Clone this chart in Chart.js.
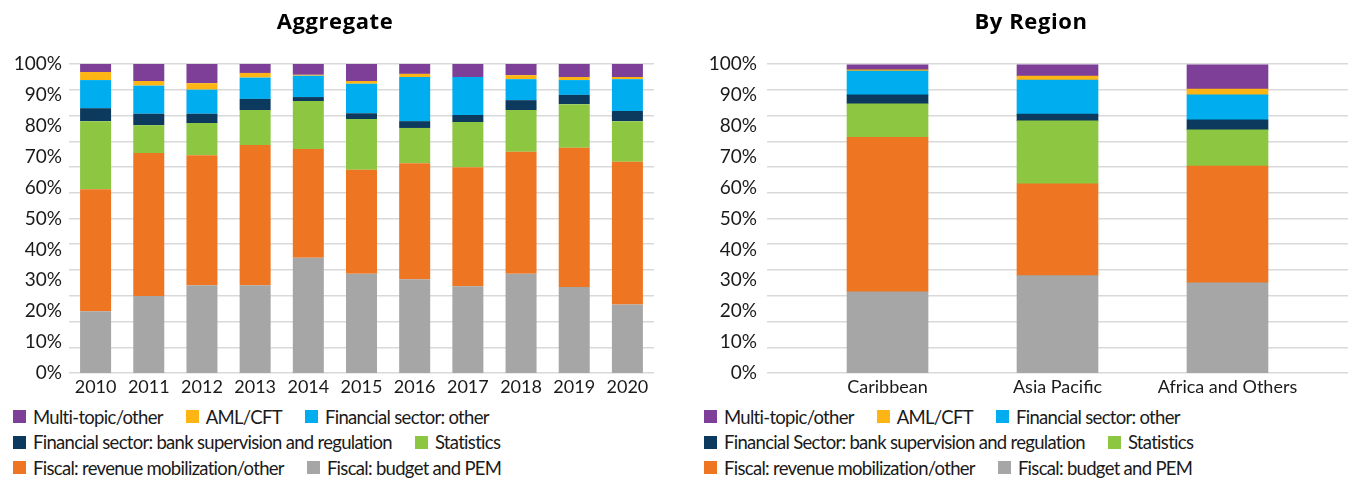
<!DOCTYPE html>
<html><head><meta charset="utf-8">
<script src="https://cdn.jsdelivr.net/npm/chart.js@4"></script>
<style>
html,body{margin:0;padding:0;background:#fff;width:1348px;height:479px;overflow:hidden;font-family:Lato,sans-serif;}
.wrap{position:absolute;top:0;width:674px;height:400px;}
.title{position:absolute;top:9px;width:300px;text-align:center;font-family:'Open Sans',sans-serif;font-weight:bold;font-size:22px;line-height:22px;letter-spacing:0.6px;color:#000;white-space:nowrap;}
.legend{position:absolute;font-family:Lato,sans-serif;font-size:18.5px;letter-spacing:-0.7px;color:#1a1a1a;}
.row{height:25.5px;white-space:nowrap;display:flex;align-items:center;}
.item{display:inline-flex;align-items:center;margin-right:23px;}
.sw{width:13px;height:13px;margin-right:7px;display:inline-block;}
</style></head><body>
<div class="wrap" style="left:0"><canvas id="c1" width="674" height="400"></canvas></div>
<div class="wrap" style="left:674px"><canvas id="c2" width="674" height="400"></canvas></div>
<div class="title" style="left:185px">Aggregate</div>
<div class="title" style="left:881px">By Region</div>
<div class="legend" id="lg1" style="left:13px;top:404px"></div>
<div class="legend" id="lg2" style="left:704px;top:404px"></div>
<script>
const years = ['2010','2011','2012','2013','2014','2015','2016','2017','2018','2019','2020'];
const regions = ['Caribbean','Asia Pacific','Africa and Others'];
const yTicks = [0,10,20,30,40,50,60,70,80,90,100];

const seriesAgg = ['Fiscal: budget and PEM','Fiscal: revenue mobilization/other','Statistics','Financial sector: bank supervision and regulation','Financial sector: other','AML/CFT','Multi-topic/other'];
const seriesReg = ['Fiscal: budget and PEM','Fiscal: revenue mobilization/other','Statistics','Financial Sector: bank supervision and regulation','Financial sector: other','AML/CFT','Multi-topic/other'];
const colors = ['#A6A6A6','#EE7623','#8DC641','#0B3A5E','#00AEEF','#FDB515','#7D3F98'];

const aggBudget   = [20.0,24.9,28.4,28.4,37.3,32.1,30.3,28.1,32.1,27.8,22.2];
const aggRevenue  = [39.5,46.3,42.1,45.4,35.2,33.7,37.6,38.5,39.5,45.1,46.2];
const aggStats    = [22.0,9.0,10.4,11.3,15.5,16.4,11.4,14.6,13.5,14.1,13.1];
const aggBank     = [4.2,3.7,3.0,3.6,1.3,1.9,2.2,2.3,3.2,3.0,3.3];
const aggFinOther = [9.1,9.1,7.8,6.9,6.9,9.5,14.3,12.3,6.8,4.8,10.3];
const aggAml      = [2.6,1.5,2.1,1.5,0.3,0.9,1.0,0.0,1.3,1.0,0.7];
const aggMulti    = [2.6,5.5,6.2,2.9,3.5,5.5,3.2,4.2,3.6,4.2,4.2];

const regBudget   = [26.3,31.5,29.2];
const regRevenue  = [50.0,29.7,37.8];
const regStats    = [10.8,20.4,11.7];
const regBank     = [2.9,2.2,3.2];
const regFinOther = [7.7,11.0,8.1];
const regAml      = [0.4,1.3,1.9];
const regMulti    = [1.6,3.6,7.8];

const aggData = [aggBudget,aggRevenue,aggStats,aggBank,aggFinOther,aggAml,aggMulti];
const regData = [regBudget,regRevenue,regStats,regBank,regFinOther,regAml,regMulti];

const TXT = '#1a1a1a';
const FONT = 'Lato, sans-serif';

function baseOptions(yWidth, yPad, padRight, xScale){
  return {
    responsive:false, animation:false,
    layout:{padding:{left:0,right:padRight,top:64,bottom:0}},
    plugins:{legend:{display:false}, tooltip:{enabled:false}, title:{display:false}},
    scales:{
      x: xScale,
      y:{stacked:true,min:0,max:100,position:'left',
         afterBuildTicks:s=>{s.ticks=yTicks.map(v=>({value:v}));},
         ticks:{callback:v=>v+'%',color:TXT,font:{family:FONT,size:19},padding:yPad},
         grid:{display:false,drawTicks:false},border:{display:false},
         afterFit:s=>{s.width=yWidth;}},
      yg:{min:0,max:100,position:'left',ticks:{display:false,count:13},
          grid:{color:'#d9d9d9',lineWidth:1.5,drawTicks:false},border:{display:false},
          afterFit:s=>{s.width=0;}}
    }
  };
}

const xAgg = {type:'category',stacked:true,grid:{display:false,drawTicks:false},border:{display:false},
  ticks:{color:TXT,font:{family:FONT,size:18},padding:3,maxRotation:0,autoSkip:false},
  afterFit:s=>{s.height=27;}};

const xReg = {type:'linear',stacked:true,min:-0.709,max:2.709,offset:false,
  grid:{display:false,offset:false,drawTicks:false},border:{display:false},
  afterBuildTicks:s=>{s.ticks=regions.map((r,i)=>({value:i}));},
  ticks:{color:TXT,font:{family:FONT,size:18},padding:3,maxRotation:0,autoSkip:false,
         callback:v=>regions[v]!==undefined?regions[v]:''},
  afterFit:s=>{s.height=27;}};

const c1 = new Chart(document.getElementById('c1'),{
  type:'bar',
  data:{labels:years,datasets:aggData.map((d,i)=>({label:seriesAgg[i],data:d,backgroundColor:colors[i],borderWidth:0,barPercentage:0.583,categoryPercentage:1}))},
  options:baseOptions(69,7,20,xAgg)
});
const c2 = new Chart(document.getElementById('c2'),{
  type:'bar',
  data:{datasets:regData.map((d,i)=>({label:seriesReg[i],data:d.map((v,j)=>({x:j,y:v})),backgroundColor:colors[i],borderWidth:0,barThickness:81}))},
  options:baseOptions(93,10,0,xReg)
});

function buildLegend(chart, el){
  const items = chart.data.datasets.map((d,i)=>({text:d.label,color:d.backgroundColor})).reverse();
  const rows = [[0,1,2],[3,4],[5,6]];
  rows.forEach(r=>{
    const row=document.createElement('div'); row.className='row';
    r.forEach(k=>{
      const it=document.createElement('span'); it.className='item';
      const sw=document.createElement('span'); sw.className='sw'; sw.style.background=items[k].color;
      it.appendChild(sw); it.appendChild(document.createTextNode(items[k].text));
      row.appendChild(it);
    });
    el.appendChild(row);
  });
}
buildLegend(c1,document.getElementById('lg1'));
buildLegend(c2,document.getElementById('lg2'));
</script>
</body></html>
